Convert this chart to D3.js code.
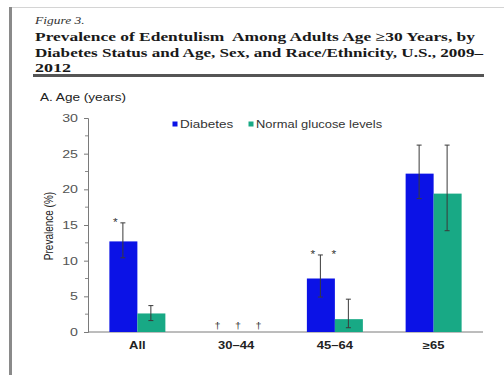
<!DOCTYPE html>
<html>
<head>
<meta charset="utf-8">
<script src="https://cdn.jsdelivr.net/npm/d3@7"></script>
<style>
  html, body { margin: 0; padding: 0; background: #fff; }
  svg { display: block; }
</style>
</head>
<body>
<svg id="chart" width="504" height="375"></svg>
<script>
// Edentulism prevalence (%) by age group and diabetes status
const categories = ["All", "30\u201344", "45\u201364", "\u226565"];
const seriesNames = ["Diabetes", "Normal glucose levels"];
const seriesColors = ["#0b12e6", "#18a985"];

const diabetes     = [12.7, null, 7.5, 22.2];
const diabetesLow  = [10.4, null, 4.9, 18.7];
const diabetesHigh = [15.3, null, 10.8, 26.2];

const normalGlucose     = [2.6, null, 1.8, 19.4];
const normalGlucoseLow  = [1.6, null, 0.6, 14.2];
const normalGlucoseHigh = [3.7, null, 4.6, 26.2];

const yTicks = [0, 5, 10, 15, 20, 25, 30];
const yMinorTicks = [2.5, 7.5, 12.5, 17.5, 22.5, 27.5];

// Significance markers (* differs from comparison group) and suppressed estimates (†)
const asterisks = [
  { category: "All", series: 0 },
  { category: "45\u201364", series: 0 },
  { category: "45\u201364", series: 1 }
];
const suppressed = ["30\u201344", "30\u201344", "30\u201344"];

const SANS = "'Liberation Sans', Arial, sans-serif";
const SERIF = "'Liberation Serif', 'Times New Roman', serif";
const K = 1.32; // horizontal glyph stretch used by the figure's typesetting

const svg = d3.select("#chart");

// Helper: text placed at (x,y), stretched horizontally by k
function label(parent, x, y, str, opts = {}) {
  const k = opts.k ?? K;
  const g = parent.append("g")
    .attr("transform", `translate(${x},${y}) ${opts.rotate ? "rotate(" + opts.rotate + ")" : ""} scale(${opts.rotate ? 1 : k},${opts.rotate ? k : 1})`);
  const t = g.append("text")
    .attr("x", 0).attr("y", 0)
    .attr("font-family", opts.family || SANS)
    .attr("font-size", opts.size || 10)
    .attr("font-weight", opts.weight || "normal")
    .attr("font-style", opts.style || "normal")
    .attr("fill", opts.fill || "#222")
    .attr("text-anchor", opts.anchor || "start")
    .text(str);
  return t;
}

// Page frame
svg.append("line").attr("x1", 9).attr("x2", 504).attr("y1", 7.5).attr("y2", 7.5)
  .attr("stroke", "#d4d4d4").attr("stroke-width", 1);
svg.append("rect").attr("x", 9).attr("y", 7).attr("width", 3).attr("height", 368)
  .attr("fill", "#8a8a8a");

// Heading
label(svg, 35, 24, "Figure 3.", { family: SERIF, size: 10, style: "italic", fill: "#333", k: 1.35 });
const titleLines = [
  "Prevalence of Edentulism  Among Adults Age \u226530 Years, by",
  "Diabetes Status and Age, Sex, and Race/Ethnicity, U.S., 2009\u2013",
  "2012"
];
const titleY = [41, 56.5, 72];
const titleWidth = [440, 448, 36];
titleLines.forEach((s, i) => {
  svg.append("text")
    .attr("x", 35).attr("y", titleY[i])
    .attr("font-family", SERIF).attr("font-size", 12.5).attr("font-weight", "bold")
    .attr("fill", "#1a1a1a")
    .attr("textLength", titleWidth[i]).attr("lengthAdjust", "spacingAndGlyphs")
    .style("white-space", "pre")
    .text(s);
});
svg.append("line").attr("x1", 33).attr("x2", 484).attr("y1", 75.5).attr("y2", 75.5)
  .attr("stroke", "#555").attr("stroke-width", 3);

// Panel label
label(svg, 40, 101, "A. Age (years)", { size: 10, fill: "#222", k: 1.36 });

// Scales
const x0 = d3.scaleBand().domain(categories).range([88, 483])
  .paddingInner(0.433).paddingOuter(0.2165);
const x1 = d3.scaleBand().domain([0, 1]).range([0, x0.bandwidth()]).padding(0);
const y = d3.scaleLinear().domain([0, 30]).range([332, 118]);

// Y axis
const yAxis = svg.append("g").attr("transform", "translate(88,0)")
  .call(d3.axisLeft(y).tickValues(yTicks).tickSize(4).tickPadding(0).tickFormat(d3.format("d")));
yAxis.select(".domain").attr("stroke", "#7a7a7a");
yAxis.selectAll(".tick line").attr("stroke", "#7a7a7a");
yAxis.selectAll(".tick text").remove();
yAxis.selectAll(".tick").each(function (d) {
  label(d3.select(this), -10, 3.6, String(d), { size: 10, fill: "#555", anchor: "end", k: 1.42 });
});
svg.append("g").attr("transform", "translate(88,0)")
  .selectAll("line").data(yMinorTicks).join("line")
  .attr("x1", -3).attr("x2", 0).attr("y1", d => y(d)).attr("y2", d => y(d))
  .attr("stroke", "#8a8a8a");

// Y axis title (rotated)
label(svg, 53, 226, "Prevalence (%)", { size: 10, fill: "#222", anchor: "middle", rotate: -90, k: 1.3 });

// X axis
svg.append("line").attr("x1", 88).attr("x2", 483).attr("y1", y(0)).attr("y2", y(0))
  .attr("stroke", "#7a7a7a");
categories.forEach(c => {
  label(svg, x0(c) + x0.bandwidth() / 2, 349, c, { size: 10, weight: "bold", fill: "#222", anchor: "middle", k: 1.3 });
});

// Bars and confidence intervals
const values = [diabetes, normalGlucose];
const lows = [diabetesLow, normalGlucoseLow];
const highs = [diabetesHigh, normalGlucoseHigh];
const barData = [];
categories.forEach((c, i) => {
  [0, 1].forEach(s => {
    if (values[s][i] != null) {
      barData.push({ c, s, v: values[s][i], lo: lows[s][i], hi: highs[s][i] });
    }
  });
});

svg.append("g").selectAll("rect").data(barData).join("rect")
  .attr("x", d => x0(d.c) + x1(d.s))
  .attr("width", x1.bandwidth())
  .attr("y", d => y(d.v))
  .attr("height", d => y(0) - y(d.v))
  .attr("fill", d => seriesColors[d.s]);

const eb = svg.append("g").attr("stroke", "#3a3a3a").attr("stroke-width", 1);
barData.forEach(d => {
  const cx = x0(d.c) + x1(d.s) + x1.bandwidth() / 2 - 0.5;
  eb.append("line").attr("x1", cx).attr("x2", cx).attr("y1", y(d.hi)).attr("y2", y(d.lo));
  eb.append("line").attr("x1", cx - 2.5).attr("x2", cx + 2.5).attr("y1", y(d.hi)).attr("y2", y(d.hi));
  eb.append("line").attr("x1", cx - 2.5).attr("x2", cx + 2.5).attr("y1", y(d.lo)).attr("y2", y(d.lo));
});

// Asterisks above the diabetes interval of each marked group
asterisks.forEach(a => {
  const i = categories.indexOf(a.category);
  const top = diabetesHigh[i];
  const cx = x0(a.category) + x1(0) + x1.bandwidth() / 2 + (a.series === 0 ? -8 : 13);
  label(svg, cx, y(top) - 2, "*", { size: 10, fill: "#333", anchor: "middle", k: 1.2 })
    .attr("dy", "0.55em");
});

// Daggers for suppressed estimates
suppressed.forEach((c, j) => {
  const cx = x0(c) + x0.bandwidth() / 2 + (j - 1) * 20.5 + 2;
  label(svg, cx, 329, "\u2020", { size: 9, fill: "#333", anchor: "middle", k: 1.2 });
});

// Legend
const legend = svg.append("g");
const legendX = [175, 251];
seriesNames.forEach((name, i) => {
  legend.append("rect").attr("x", legendX[i] - 2.5).attr("y", 121.5).attr("width", 5).attr("height", 5)
    .attr("fill", seriesColors[i]);
  label(legend, legendX[i] + 5, 127.5, name, { size: 10, fill: "#333", k: i === 0 ? 1.35 : 1.29 });
});
</script>
</body>
</html>
